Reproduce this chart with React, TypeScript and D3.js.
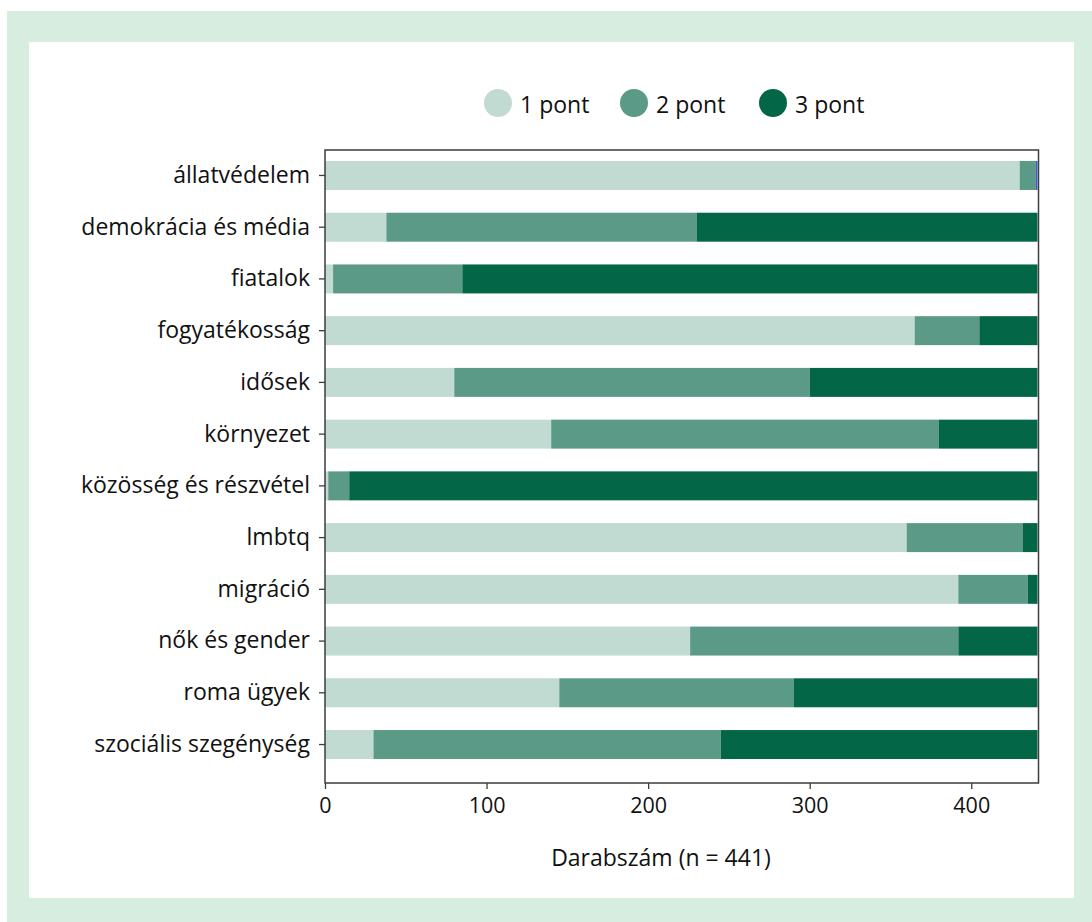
import React, { useEffect, useRef } from "react";
import * as d3 from "d3";

const categories = [
  "állatvédelem",
  "demokrácia és média",
  "fiatalok",
  "fogyatékosság",
  "idősek",
  "környezet",
  "közösség és részvétel",
  "lmbtq",
  "migráció",
  "nők és gender",
  "roma ügyek",
  "szociális szegénység",
];

const onePoint = [430, 38, 5, 365, 80, 140, 2, 360, 392, 226, 145, 30];
const twoPoint = [10, 192, 80, 40, 220, 240, 13, 72, 43, 166, 145, 215];
const threePoint = [0, 211, 356, 36, 141, 61, 426, 9, 6, 49, 151, 196];
const otherPoint = [1, 0, 0, 0, 0, 0, 0, 0, 0, 0, 0, 0];

const legendLabels = ["1 pont", "2 pont", "3 pont"];
const xTicks = [0, 100, 200, 300, 400];
const total = 441;

const colors = ["#c1dad2", "#5a9a86", "#036747", "#3a5ccc"];
const font = "'Open Sans', sans-serif";

export default function App() {
  const ref = useRef<SVGSVGElement>(null);

  useEffect(() => {
    document.body.style.margin = "0";
    const svg = d3.select(ref.current);
    svg.selectAll("*").remove();

    // frame
    svg.append("rect").attr("x", 7).attr("y", 11).attr("width", 1092).attr("height", 922).attr("fill", "#d7ede0");
    svg.append("rect").attr("x", 29).attr("y", 42).attr("width", 1045).attr("height", 856).attr("fill", "#fff");

    const left = 325, right = 1037.5, top = 150, bottom = 783;

    const x = d3.scaleLinear().domain([0, total]).range([left, right]);
    const y = d3.scaleBand<string>()
      .domain(categories)
      .range([149.6, 770.4])
      .paddingInner(0.44)
      .paddingOuter(0.22);

    const rows = categories.map((c, i) => ({
      cat: c, p1: onePoint[i], p2: twoPoint[i], p3: threePoint[i], p4: otherPoint[i],
    }));
    const keys = ["p1", "p2", "p3", "p4"];
    const stacked = d3.stack<any>().keys(keys)(rows);

    const g = svg.append("g");
    stacked.forEach((layer, k) => {
      g.append("g")
        .attr("fill", colors[k])
        .selectAll("rect")
        .data(layer)
        .join("rect")
        .attr("x", (d) => x(d[0]))
        .attr("y", (d) => y(d.data.cat) as number)
        .attr("width", (d) => Math.max(0, x(d[1]) - x(d[0])))
        .attr("height", y.bandwidth());
    });

    // plot border
    svg.append("rect")
      .attr("x", left).attr("y", top)
      .attr("width", right + 1 - left).attr("height", bottom - top)
      .attr("fill", "none").attr("stroke", "#3d3d3d").attr("stroke-width", 1.5);

    // x axis
    const xa = svg.append("g").attr("transform", `translate(0,${bottom})`)
      .call(d3.axisBottom(x).tickValues(xTicks).tickSize(6).tickPadding(9));
    xa.select(".domain").remove();
    xa.selectAll("line").attr("stroke", "#3d3d3d").attr("stroke-width", 1.3);
    xa.selectAll("text").attr("font-family", font).attr("font-size", 21.5).attr("fill", "#111");

    // y axis
    const ya = svg.append("g").attr("transform", `translate(${left},0)`)
      .call(d3.axisLeft(y).tickSize(6).tickPadding(9));
    ya.select(".domain").remove();
    ya.selectAll("line").attr("stroke", "#3d3d3d").attr("stroke-width", 1.3);
    ya.selectAll("text").attr("font-family", font).attr("font-size", 23).attr("fill", "#111");

    // axis title
    svg.append("text")
      .attr("x", 661).attr("y", 866)
      .attr("text-anchor", "middle")
      .attr("font-family", font).attr("font-size", 23).attr("fill", "#111")
      .text(`Darabszám (n = ${total})`);

    // legend
    const legendX = [498, 634, 773];
    legendLabels.forEach((lab, i) => {
      svg.append("circle").attr("cx", legendX[i]).attr("cy", 103).attr("r", 14).attr("fill", colors[i]);
      svg.append("text")
        .attr("x", legendX[i] + 22).attr("y", 113)
        .attr("font-family", font).attr("font-size", 23).attr("fill", "#111")
        .text(lab);
    });
  }, []);

  return <svg ref={ref} width={1092} height={922} style={{ display: "block" }} />;
}
